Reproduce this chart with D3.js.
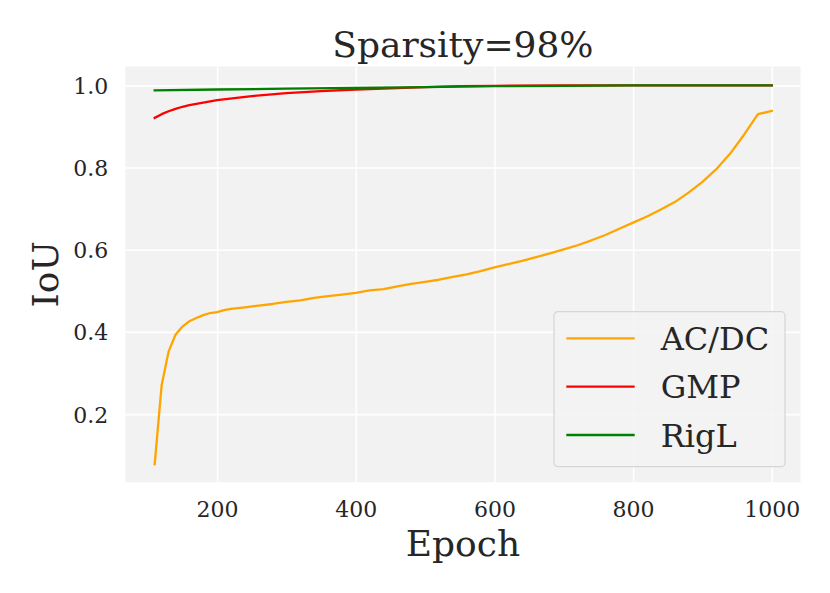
<!DOCTYPE html>
<html>
<head>
<meta charset="utf-8">
<script src="https://cdn.jsdelivr.net/npm/d3@7"></script>
<style>
  html, body { margin: 0; padding: 0; background: #fff; }
  svg { display: block; font-family: "DejaVu Serif", serif; }
</style>
</head>
<body>
<div id="chart"></div>
<script>
// --- Données ---
const acdcEpochs = [110, 120, 130, 140, 150, 160, 170, 180, 190, 200, 210, 220, 240, 260, 280, 300,
  320, 340, 360, 380, 400, 420, 440, 460, 480, 500, 520, 540, 560, 580, 600, 620, 640, 660, 680,
  700, 720, 740, 760, 780, 800, 820, 840, 860, 880, 900, 920, 940, 960, 980, 1000];
const acdcIoU = [0.078, 0.270, 0.352, 0.393, 0.413, 0.426, 0.434, 0.441, 0.446, 0.448, 0.453, 0.456,
  0.460, 0.464, 0.468, 0.473, 0.477, 0.483, 0.487, 0.491, 0.495, 0.501, 0.504, 0.511, 0.517, 0.522,
  0.527, 0.534, 0.540, 0.548, 0.557, 0.565, 0.573, 0.582, 0.591, 0.601, 0.611, 0.623, 0.636, 0.651,
  0.666, 0.681, 0.698, 0.716, 0.739, 0.765, 0.796, 0.834, 0.880, 0.930, 0.938];

const gmpEpochs = [110, 120, 130, 140, 150, 160, 180, 200, 225, 250, 300, 350, 400, 450, 500, 550, 600, 700, 800, 1000];
const gmpIoU = [0.921, 0.930, 0.937, 0.943, 0.948, 0.952, 0.958, 0.964, 0.969, 0.974, 0.981, 0.986,
  0.990, 0.993, 0.996, 0.998, 0.999, 1.0, 1.0, 1.0];

const riglEpochs = [110, 200, 300, 400, 500, 600, 700, 800, 1000];
const riglIoU = [0.988, 0.990, 0.992, 0.994, 0.996, 0.998, 0.999, 1.0, 1.0];

const seriesNames = ['AC/DC', 'GMP', 'RigL'];
const seriesColors = ['orange', 'red', 'green'];

const xTicks = [200, 400, 600, 800, 1000];
const yTicks = [0.2, 0.4, 0.6, 0.8, 1.0];
const xLimits = [67.6, 1041.4];
const yLimits = [0.034, 1.046];

// --- Mise en page ---
const width = 830;
const height = 593;
const plot = { left: 125.3, right: 800.5, top: 66.5, bottom: 482.3 };
const textColor = '#262626';

const svg = d3.select('#chart').append('svg')
  .attr('width', width)
  .attr('height', height);

const x = d3.scaleLinear().domain(xLimits).range([plot.left, plot.right]);
const y = d3.scaleLinear().domain(yLimits).range([plot.bottom, plot.top]);

// fond gris
svg.append('rect')
  .attr('x', plot.left).attr('y', plot.top)
  .attr('width', plot.right - plot.left)
  .attr('height', plot.bottom - plot.top)
  .attr('fill', '#f2f2f2');

// grille blanche via les axes d3
const xAxis = svg.append('g')
  .attr('transform', `translate(0,${plot.bottom})`)
  .call(d3.axisBottom(x).tickValues(xTicks).tickSize(-(plot.bottom - plot.top)).tickPadding(18).tickFormat(d3.format('d')));
const yAxis = svg.append('g')
  .attr('transform', `translate(${plot.left},0)`)
  .call(d3.axisLeft(y).tickValues(yTicks).tickSize(-(plot.right - plot.left)).tickPadding(17).tickFormat(d3.format('.1f')));

for (const ax of [xAxis, yAxis]) {
  ax.select('.domain').remove();
  ax.selectAll('.tick line').attr('stroke', '#fff').attr('stroke-width', 1.6);
  ax.selectAll('.tick text')
    .attr('fill', textColor)
    .style('font-family', '"DejaVu Serif", serif')
    .style('font-size', '22px');
}
xAxis.selectAll('.tick text').attr('dy', null).attr('y', 35);
yAxis.selectAll('.tick text').attr('dy', '0.36em');

// --- Courbes ---
const series = [
  { name: seriesNames[0], color: seriesColors[0], points: d3.zip(acdcEpochs, acdcIoU) },
  { name: seriesNames[1], color: seriesColors[1], points: d3.zip(gmpEpochs, gmpIoU) },
  { name: seriesNames[2], color: seriesColors[2], points: d3.zip(riglEpochs, riglIoU) },
];

const line = d3.line().x(d => x(d[0])).y(d => y(d[1]));

svg.append('g').selectAll('path')
  .data(series)
  .join('path')
  .attr('d', d => line(d.points))
  .attr('fill', 'none')
  .attr('stroke', d => d.color)
  .attr('stroke-width', 2.3)
  .attr('stroke-linejoin', 'round')
  .attr('stroke-linecap', 'square');

// --- Titres ---
svg.append('text')
  .attr('x', (plot.left + plot.right) / 2).attr('y', 57)
  .attr('text-anchor', 'middle')
  .attr('fill', textColor)
  .style('font-size', '36px')
  .text('Sparsity=98%');

svg.append('text')
  .attr('x', (plot.left + plot.right) / 2).attr('y', 556)
  .attr('text-anchor', 'middle')
  .attr('fill', textColor)
  .style('font-size', '36px')
  .text('Epoch');

svg.append('text')
  .attr('transform', `translate(58,${(plot.top + plot.bottom) / 2}) rotate(-90)`)
  .attr('text-anchor', 'middle')
  .attr('fill', textColor)
  .style('font-size', '36px')
  .text('IoU');

// --- Légende ---
const legend = svg.append('g').attr('transform', 'translate(554,311.7)');
legend.append('rect')
  .attr('width', 231).attr('height', 155)
  .attr('rx', 4).attr('ry', 4)
  .attr('fill', '#f2f2f2').attr('fill-opacity', 0.8)
  .attr('stroke', '#d6d6d6').attr('stroke-width', 1.2);

const rows = legend.selectAll('g.row')
  .data(series)
  .join('g')
  .attr('class', 'row')
  .attr('transform', (d, i) => `translate(0,${26.6 + i * 48.35})`);

rows.append('line')
  .attr('x1', 12.3).attr('x2', 80.7)
  .attr('stroke', d => d.color)
  .attr('stroke-width', 2.3);

rows.append('text')
  .attr('x', 106.7).attr('dy', '0.36em')
  .attr('fill', textColor)
  .style('font-size', '32px')
  .text(d => d.name);
</script>
</body>
</html>
